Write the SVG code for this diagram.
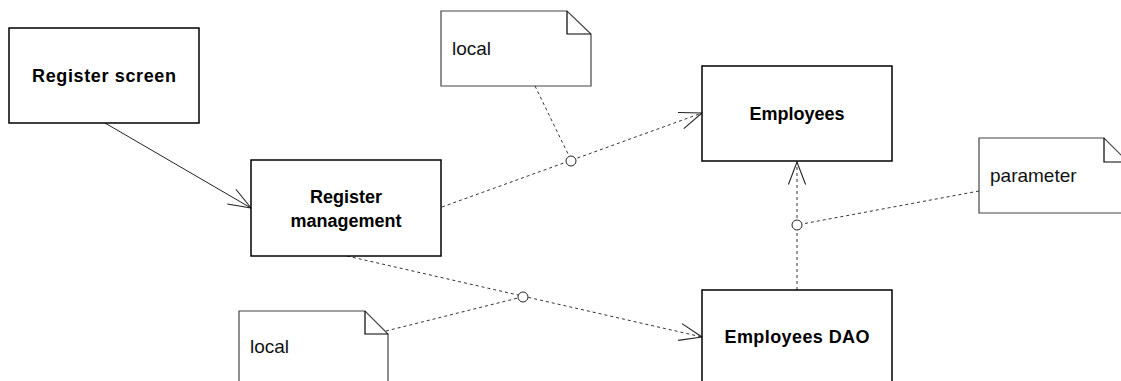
<svg xmlns="http://www.w3.org/2000/svg" width="1121" height="381" viewBox="0 0 1121 381">
  <style>
    .box { fill: #ffffff; stroke: #000000; stroke-width: 1.5; }
    .note { fill: #ffffff; stroke: #444444; stroke-width: 1.2; }
    .fold { fill: none; stroke: #000000; stroke-width: 1.2; }
    .title { font-family: "Liberation Sans", Arial, sans-serif; font-size: 18px; font-weight: bold; fill: #000000; text-anchor: middle; }
    .label { font-family: "Liberation Sans", Arial, sans-serif; font-size: 19px; fill: #111111; }
    .solid { fill: none; stroke: #222222; stroke-width: 1; }
    .dashed { fill: none; stroke: #333333; stroke-width: 1; stroke-dasharray: 3 3; }
    .joint { fill: #ffffff; stroke: #222222; stroke-width: 1; }
  </style>
  <defs>
    <marker id="open" markerUnits="userSpaceOnUse" markerWidth="30" markerHeight="30" viewBox="-24 -12 28 24" refX="0" refY="0" orient="auto" overflow="visible">
      <path d="M-21,-8 L0,0 L-21,8" fill="none" stroke="#222222" stroke-width="1"/>
    </marker>
  </defs>

  <!-- connectors -->
  <g id="connectors">
    <line class="solid" x1="105" y1="123" x2="251" y2="208" marker-end="url(#open)"/>
    <line class="dashed" x1="442" y1="207" x2="702" y2="113" marker-end="url(#open)"/>
    <line class="dashed" x1="347" y1="256" x2="702" y2="337" marker-end="url(#open)"/>
    <line class="dashed" x1="797" y1="290" x2="797" y2="162" marker-end="url(#open)"/>
    <line class="dashed" x1="535" y1="86" x2="569" y2="156"/>
    <line class="dashed" x1="386" y1="331" x2="518" y2="298"/>
    <line class="dashed" x1="979" y1="191" x2="802" y2="224"/>
    <circle class="joint" cx="571" cy="161" r="5"/>
    <circle class="joint" cx="523" cy="297" r="5"/>
    <circle class="joint" cx="797" cy="225" r="5"/>
  </g>

  <!-- classes -->
  <g id="register-screen">
    <rect class="box" x="9" y="28" width="190" height="95"/>
    <text class="title" x="104" y="82" textLength="144">Register screen</text>
  </g>
  <g id="register-management">
    <rect class="box" x="251" y="160" width="190" height="96"/>
    <text class="title" x="346" y="203">Register</text>
    <text class="title" x="346" y="227">management</text>
  </g>
  <g id="employees">
    <rect class="box" x="702" y="66" width="190" height="95"/>
    <text class="title" x="797" y="120">Employees</text>
  </g>
  <g id="employees-dao">
    <rect class="box" x="702" y="290" width="190" height="100"/>
    <text class="title" x="797" y="343" textLength="145">Employees DAO</text>
  </g>

  <!-- notes -->
  <g id="note-local-top">
    <path class="note" d="M441,11 H567 L591,34 V86 H441 Z"/>
    <path class="fold" d="M567,11 V34 H591"/>
    <text class="label" x="452" y="55">local</text>
  </g>
  <g id="note-parameter">
    <path class="note" d="M979,138 H1104 L1128,162 V213 H979 Z"/>
    <path class="fold" d="M1104,138 V162 H1128"/>
    <text class="label" x="990" y="182">parameter</text>
  </g>
  <g id="note-local-bottom">
    <path class="note" d="M239,311 H365 L388,334 V390 H239 Z"/>
    <path class="fold" d="M365,311 V334 H388"/>
    <text class="label" x="250" y="353">local</text>
  </g>
</svg>
